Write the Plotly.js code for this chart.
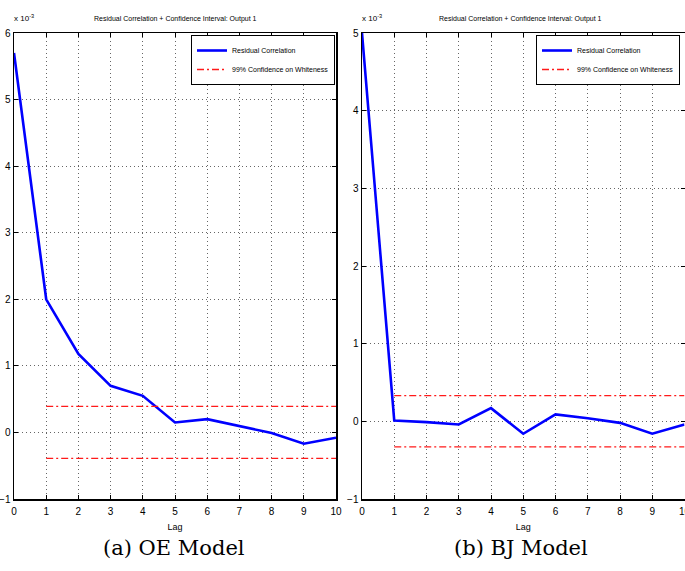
<!DOCTYPE html>
<html>
<head>
<meta charset="utf-8">
<script src="https://cdn.plot.ly/plotly-3.0.1.min.js"></script>
<style>html,body{margin:0;padding:0;background:#fff;}#chart{width:685px;height:571px;}</style>
</head>
<body>
<div id="chart"></div>
<script>
// Values in units of 1e-3
const lags = [0, 1, 2, 3, 4, 5, 6, 7, 8, 9, 10];
const oeResid = [5.70, 2.00, 1.18, 0.70, 0.55, 0.15, 0.20, 0.10, -0.01, -0.17, -0.08];
const bjResid = [5.00, 0.01, -0.01, -0.04, 0.17, -0.16, 0.09, 0.04, -0.02, -0.16, -0.04];
const confLags = [1, 2, 3, 4, 5, 6, 7, 8, 9, 10];
const oeConf = 0.39;
const bjConf = 0.33;
const titleText = 'Residual Correlation + Confidence Interval: Output 1';
const captions = ['(a) OE Model', '(b) BJ Model'];
const seriesNames = ['Residual Correlation', '99% Confidence on Whiteness'];

const W = 685, H = 571;
const px = v => v / W;
const py = v => 1 - v / H;
const sans = 'Liberation Sans, Arial, sans-serif';
const serif = 'DejaVu Serif, Liberation Serif, serif';

function panel(xa, ya, leg, resid, conf) {
  const red = {color: '#ff1a1a', width: 1.3, dash: '7px,3px,2px,3px'};
  return [
    {x: lags, y: resid, xaxis: xa, yaxis: ya, legend: leg, mode: 'lines', name: seriesNames[0],
     line: {color: '#0000ff', width: 2.6}},
    {x: confLags, y: confLags.map(() => conf), xaxis: xa, yaxis: ya, legend: leg, mode: 'lines', name: seriesNames[1],
     line: red},
    {x: confLags, y: confLags.map(() => -conf), xaxis: xa, yaxis: ya, legend: leg, mode: 'lines', name: seriesNames[1],
     showlegend: false, line: red}
  ];
}

const data = [].concat(
  panel('x', 'y', 'legend', oeResid, oeConf),
  panel('x2', 'y2', 'legend2', bjResid, bjConf)
);

const axBase = {
  showline: true, linecolor: '#000', linewidth: 1.5, mirror: 'ticks',
  ticks: 'inside', ticklen: 4, tickcolor: '#000', tickwidth: 1,
  showgrid: true, gridcolor: '#666', griddash: '1px,3px', gridwidth: 1,
  zeroline: false, tickfont: {family: sans, size: 10, color: '#000'},
  ticklabeloverflow: 'allow', fixedrange: true
};
const xBase = Object.assign({}, axBase, {range: [0, 10], tickvals: lags, ticklabelstandoff: 2,
  title: {text: 'Lag', font: {family: sans, size: 9, color: '#000'}, standoff: 8}});

function legendAt(xr) {
  return {x: px(xr), y: py(35), xanchor: 'right', yanchor: 'top', bgcolor: '#fff',
    bordercolor: '#000', borderwidth: 1, font: {family: sans, size: 7, color: '#000'},
    itemwidth: 30, tracegroupgap: 0};
}

function ann(text, x, y, xanchor, font) {
  return {text: text, x: px(x), y: py(y), xref: 'paper', yref: 'paper', showarrow: false,
    xanchor: xanchor, yanchor: 'middle', font: font};
}

const layout = {
  width: W, height: H,
  margin: {l: 0, r: 0, t: 0, b: 0},
  paper_bgcolor: '#fff', plot_bgcolor: '#fff',
  showlegend: true,
  xaxis: Object.assign({}, xBase, {domain: [px(14), px(336)], anchor: 'y'}),
  yaxis: Object.assign({}, axBase, {domain: [py(499), py(33)], range: [-1, 6], dtick: 1, anchor: 'x'}),
  xaxis2: Object.assign({}, xBase, {domain: [px(362), px(684.5)], anchor: 'y2'}),
  yaxis2: Object.assign({}, axBase, {domain: [py(499), py(33)], range: [-1, 5], dtick: 1, anchor: 'x2'}),
  legend: legendAt(335),
  legend2: legendAt(680),
  annotations: [
    ann(titleText, 175, 19, 'center', {family: sans, size: 7, color: '#000'}),
    ann(titleText, 520, 19, 'center', {family: sans, size: 7, color: '#000'}),
    ann('x 10<sup>-3</sup>', 12, 18, 'left', {family: sans, size: 8, color: '#000'}),
    ann('x 10<sup>-3</sup>', 360, 18, 'left', {family: sans, size: 8, color: '#000'}),
    ann(captions[0], 174, 548, 'center', {family: serif, size: 21, color: '#000'}),
    ann(captions[1], 521, 548, 'center', {family: serif, size: 21, color: '#000'})
  ]
};

Plotly.newPlot('chart', data, layout, {displayModeBar: false, staticPlot: true});
</script>
</body>
</html>
